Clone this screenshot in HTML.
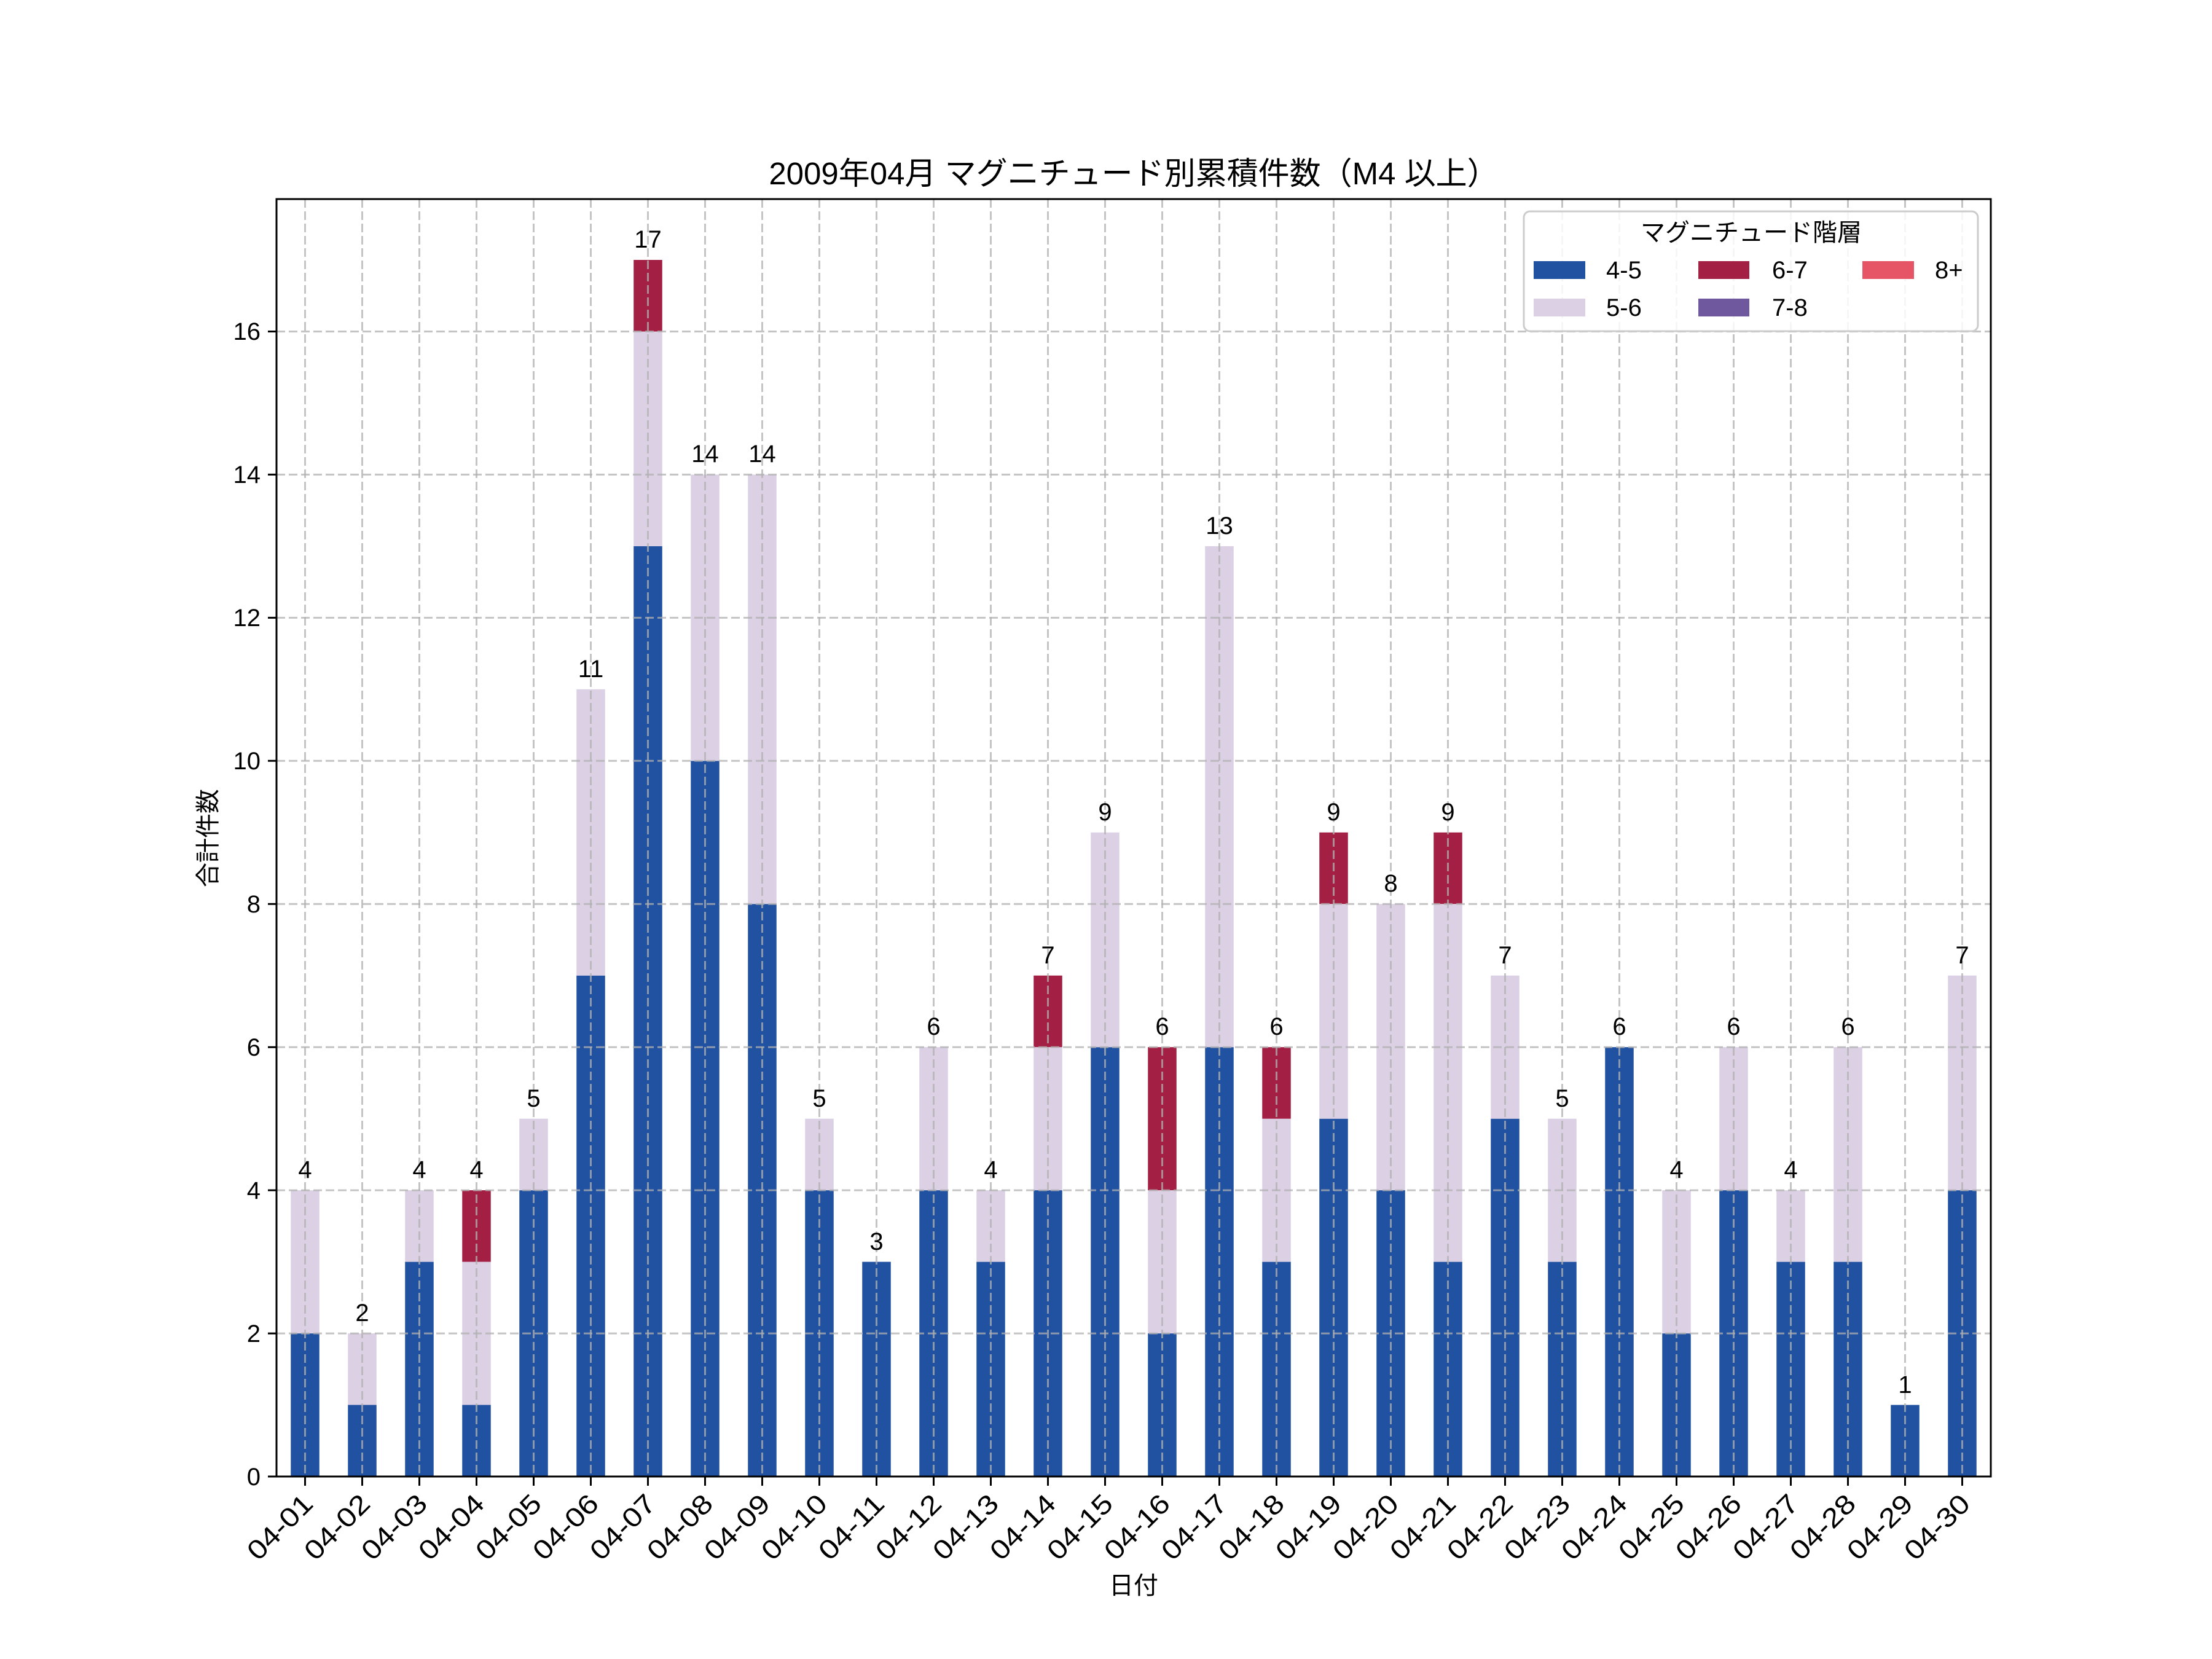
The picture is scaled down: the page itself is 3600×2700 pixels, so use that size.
<!DOCTYPE html>
<html><head><meta charset="utf-8"><style>
html,body{margin:0;padding:0;background:#fff;}
svg{display:block;}
text{font-family:"Liberation Sans","Noto Sans CJK JP",sans-serif;fill:#000;}
</style></head><body>
<svg width="3600" height="2700" viewBox="0 0 3600 2700" xmlns="http://www.w3.org/2000/svg">
<rect width="3600" height="2700" fill="#fff"/>
<g id="bars">
<g fill="#2151a1">
<rect x="473.25" y="2170.1" width="46.5" height="232.9"/>
<rect x="566.25" y="2286.5" width="46.5" height="116.5"/>
<rect x="659.25" y="2053.6" width="46.5" height="349.4"/>
<rect x="752.25" y="2286.5" width="46.5" height="116.5"/>
<rect x="845.25" y="1937.1" width="46.5" height="465.9"/>
<rect x="938.25" y="1587.7" width="46.5" height="815.3"/>
<rect x="1031.25" y="888.9" width="46.5" height="1514.1"/>
<rect x="1124.25" y="1238.3" width="46.5" height="1164.7"/>
<rect x="1217.25" y="1471.2" width="46.5" height="931.8"/>
<rect x="1310.25" y="1937.1" width="46.5" height="465.9"/>
<rect x="1403.25" y="2053.6" width="46.5" height="349.4"/>
<rect x="1496.25" y="1937.1" width="46.5" height="465.9"/>
<rect x="1589.25" y="2053.6" width="46.5" height="349.4"/>
<rect x="1682.25" y="1937.1" width="46.5" height="465.9"/>
<rect x="1775.25" y="1704.2" width="46.5" height="698.8"/>
<rect x="1868.25" y="2170.1" width="46.5" height="232.9"/>
<rect x="1961.25" y="1704.2" width="46.5" height="698.8"/>
<rect x="2054.25" y="2053.6" width="46.5" height="349.4"/>
<rect x="2147.25" y="1820.7" width="46.5" height="582.3"/>
<rect x="2240.25" y="1937.1" width="46.5" height="465.9"/>
<rect x="2333.25" y="2053.6" width="46.5" height="349.4"/>
<rect x="2426.25" y="1820.7" width="46.5" height="582.3"/>
<rect x="2519.25" y="2053.6" width="46.5" height="349.4"/>
<rect x="2612.25" y="1704.2" width="46.5" height="698.8"/>
<rect x="2705.25" y="2170.1" width="46.5" height="232.9"/>
<rect x="2798.25" y="1937.1" width="46.5" height="465.9"/>
<rect x="2891.25" y="2053.6" width="46.5" height="349.4"/>
<rect x="2984.25" y="2053.6" width="46.5" height="349.4"/>
<rect x="3077.25" y="2286.5" width="46.5" height="116.5"/>
<rect x="3170.25" y="1937.1" width="46.5" height="465.9"/>
</g>
<g fill="#dcd0e5">
<rect x="473.25" y="1937.1" width="46.5" height="233"/>
<rect x="566.25" y="2170.1" width="46.5" height="116.4"/>
<rect x="659.25" y="1937.1" width="46.5" height="116.5"/>
<rect x="752.25" y="2053.6" width="46.5" height="232.9"/>
<rect x="845.25" y="1820.7" width="46.5" height="116.4"/>
<rect x="938.25" y="1121.8" width="46.5" height="465.9"/>
<rect x="1031.25" y="539.5" width="46.5" height="349.4"/>
<rect x="1124.25" y="772.4" width="46.5" height="465.9"/>
<rect x="1217.25" y="772.4" width="46.5" height="698.8"/>
<rect x="1310.25" y="1820.7" width="46.5" height="116.4"/>
<rect x="1496.25" y="1704.2" width="46.5" height="232.9"/>
<rect x="1589.25" y="1937.1" width="46.5" height="116.5"/>
<rect x="1682.25" y="1704.2" width="46.5" height="232.9"/>
<rect x="1775.25" y="1354.8" width="46.5" height="349.4"/>
<rect x="1868.25" y="1937.1" width="46.5" height="233"/>
<rect x="1961.25" y="888.9" width="46.5" height="815.3"/>
<rect x="2054.25" y="1820.7" width="46.5" height="232.9"/>
<rect x="2147.25" y="1471.2" width="46.5" height="349.5"/>
<rect x="2240.25" y="1471.2" width="46.5" height="465.9"/>
<rect x="2333.25" y="1471.2" width="46.5" height="582.4"/>
<rect x="2426.25" y="1587.7" width="46.5" height="233"/>
<rect x="2519.25" y="1820.7" width="46.5" height="232.9"/>
<rect x="2705.25" y="1937.1" width="46.5" height="233"/>
<rect x="2798.25" y="1704.2" width="46.5" height="232.9"/>
<rect x="2891.25" y="1937.1" width="46.5" height="116.5"/>
<rect x="2984.25" y="1704.2" width="46.5" height="349.4"/>
<rect x="3170.25" y="1587.7" width="46.5" height="349.4"/>
</g>
<g fill="#a32044">
<rect x="752.25" y="1937.1" width="46.5" height="116.5"/>
<rect x="1031.25" y="423.0" width="46.5" height="116.5"/>
<rect x="1682.25" y="1587.7" width="46.5" height="116.5"/>
<rect x="1868.25" y="1704.2" width="46.5" height="232.9"/>
<rect x="2054.25" y="1704.2" width="46.5" height="116.5"/>
<rect x="2147.25" y="1354.8" width="46.5" height="116.4"/>
<rect x="2333.25" y="1354.8" width="46.5" height="116.4"/>
</g>
</g>
<g stroke="#b0b0b0" stroke-opacity="0.75" stroke-width="3" stroke-dasharray="14,6" fill="none">
<path d="M450 2403.0H3240M450 2170.1H3240M450 1937.1H3240M450 1704.2H3240M450 1471.2H3240M450 1238.3H3240M450 1005.4H3240M450 772.4H3240M450 539.5H3240"/>
<path d="M496.5 324V2403M589.5 324V2403M682.5 324V2403M775.5 324V2403M868.5 324V2403M961.5 324V2403M1054.5 324V2403M1147.5 324V2403M1240.5 324V2403M1333.5 324V2403M1426.5 324V2403M1519.5 324V2403M1612.5 324V2403M1705.5 324V2403M1798.5 324V2403M1891.5 324V2403M1984.5 324V2403M2077.5 324V2403M2170.5 324V2403M2263.5 324V2403M2356.5 324V2403M2449.5 324V2403M2542.5 324V2403M2635.5 324V2403M2728.5 324V2403M2821.5 324V2403M2914.5 324V2403M3007.5 324V2403M3100.5 324V2403M3193.5 324V2403"/>
</g>
<g font-size="40" text-anchor="middle">
<text x="496.5" y="1917">4</text>
<text x="589.5" y="2150">2</text>
<text x="682.5" y="1917">4</text>
<text x="775.5" y="1917">4</text>
<text x="868.5" y="1801">5</text>
<text x="961.5" y="1102">11</text>
<text x="1054.5" y="403">17</text>
<text x="1147.5" y="752">14</text>
<text x="1240.5" y="752">14</text>
<text x="1333.5" y="1801">5</text>
<text x="1426.5" y="2034">3</text>
<text x="1519.5" y="1684">6</text>
<text x="1612.5" y="1917">4</text>
<text x="1705.5" y="1568">7</text>
<text x="1798.5" y="1335">9</text>
<text x="1891.5" y="1684">6</text>
<text x="1984.5" y="869">13</text>
<text x="2077.5" y="1684">6</text>
<text x="2170.5" y="1335">9</text>
<text x="2263.5" y="1451">8</text>
<text x="2356.5" y="1335">9</text>
<text x="2449.5" y="1568">7</text>
<text x="2542.5" y="1801">5</text>
<text x="2635.5" y="1684">6</text>
<text x="2728.5" y="1917">4</text>
<text x="2821.5" y="1684">6</text>
<text x="2914.5" y="1917">4</text>
<text x="3007.5" y="1684">6</text>
<text x="3100.5" y="2267">1</text>
<text x="3193.5" y="1568">7</text>
</g>
<rect x="2480" y="344" width="739" height="195" rx="10" fill="#fff" fill-opacity="0.85" stroke="#cccccc" stroke-width="3"/>
<text x="2850" y="392" font-size="40" text-anchor="middle">マグニチュード階層</text>
<rect x="2496" y="425" width="84" height="29" fill="#2151a1"/>
<text x="2614" y="453" font-size="40">4-5</text>
<rect x="2496" y="486" width="84" height="29" fill="#dcd0e5"/>
<text x="2614" y="514" font-size="40">5-6</text>
<rect x="2764" y="425" width="83" height="29" fill="#a32044"/>
<text x="2884" y="453" font-size="40">6-7</text>
<rect x="2764" y="486" width="83" height="29" fill="#70589f"/>
<text x="2884" y="514" font-size="40">7-8</text>
<rect x="3031" y="425" width="84" height="29" fill="#e65566"/>
<text x="3149" y="453" font-size="40">8+</text>
<rect x="450" y="324" width="2790" height="2079" fill="none" stroke="#000" stroke-width="3"/>
<g stroke="#000" stroke-width="3">
<path d="M436 2403H450M436 2170.1H450M436 1937.1H450M436 1704.2H450M436 1471.2H450M436 1238.3H450M436 1005.4H450M436 772.4H450M436 539.5H450"/>
<path d="M496.5 2403v15M589.5 2403v15M682.5 2403v15M775.5 2403v15M868.5 2403v15M961.5 2403v15M1054.5 2403v15M1147.5 2403v15M1240.5 2403v15M1333.5 2403v15M1426.5 2403v15M1519.5 2403v15M1612.5 2403v15M1705.5 2403v15M1798.5 2403v15M1891.5 2403v15M1984.5 2403v15M2077.5 2403v15M2170.5 2403v15M2263.5 2403v15M2356.5 2403v15M2449.5 2403v15M2542.5 2403v15M2635.5 2403v15M2728.5 2403v15M2821.5 2403v15M2914.5 2403v15M3007.5 2403v15M3100.5 2403v15M3193.5 2403v15"/>
</g>
<g font-size="40" text-anchor="end">
<text x="424" y="2417">0</text>
<text x="424" y="2184">2</text>
<text x="424" y="1951">4</text>
<text x="424" y="1718">6</text>
<text x="424" y="1485">8</text>
<text x="424" y="1252">10</text>
<text x="424" y="1019">12</text>
<text x="424" y="786">14</text>
<text x="424" y="553">16</text>
</g>
<g font-size="44" text-anchor="end">
<text transform="translate(512,2450) rotate(-45)" textLength="130" lengthAdjust="spacingAndGlyphs">04-01</text>
<text transform="translate(605,2450) rotate(-45)" textLength="130" lengthAdjust="spacingAndGlyphs">04-02</text>
<text transform="translate(698,2450) rotate(-45)" textLength="130" lengthAdjust="spacingAndGlyphs">04-03</text>
<text transform="translate(791,2450) rotate(-45)" textLength="130" lengthAdjust="spacingAndGlyphs">04-04</text>
<text transform="translate(884,2450) rotate(-45)" textLength="130" lengthAdjust="spacingAndGlyphs">04-05</text>
<text transform="translate(977,2450) rotate(-45)" textLength="130" lengthAdjust="spacingAndGlyphs">04-06</text>
<text transform="translate(1070,2450) rotate(-45)" textLength="130" lengthAdjust="spacingAndGlyphs">04-07</text>
<text transform="translate(1163,2450) rotate(-45)" textLength="130" lengthAdjust="spacingAndGlyphs">04-08</text>
<text transform="translate(1256,2450) rotate(-45)" textLength="130" lengthAdjust="spacingAndGlyphs">04-09</text>
<text transform="translate(1349,2450) rotate(-45)" textLength="130" lengthAdjust="spacingAndGlyphs">04-10</text>
<text transform="translate(1442,2450) rotate(-45)" textLength="130" lengthAdjust="spacingAndGlyphs">04-11</text>
<text transform="translate(1535,2450) rotate(-45)" textLength="130" lengthAdjust="spacingAndGlyphs">04-12</text>
<text transform="translate(1628,2450) rotate(-45)" textLength="130" lengthAdjust="spacingAndGlyphs">04-13</text>
<text transform="translate(1721,2450) rotate(-45)" textLength="130" lengthAdjust="spacingAndGlyphs">04-14</text>
<text transform="translate(1814,2450) rotate(-45)" textLength="130" lengthAdjust="spacingAndGlyphs">04-15</text>
<text transform="translate(1907,2450) rotate(-45)" textLength="130" lengthAdjust="spacingAndGlyphs">04-16</text>
<text transform="translate(2000,2450) rotate(-45)" textLength="130" lengthAdjust="spacingAndGlyphs">04-17</text>
<text transform="translate(2093,2450) rotate(-45)" textLength="130" lengthAdjust="spacingAndGlyphs">04-18</text>
<text transform="translate(2186,2450) rotate(-45)" textLength="130" lengthAdjust="spacingAndGlyphs">04-19</text>
<text transform="translate(2279,2450) rotate(-45)" textLength="130" lengthAdjust="spacingAndGlyphs">04-20</text>
<text transform="translate(2372,2450) rotate(-45)" textLength="130" lengthAdjust="spacingAndGlyphs">04-21</text>
<text transform="translate(2465,2450) rotate(-45)" textLength="130" lengthAdjust="spacingAndGlyphs">04-22</text>
<text transform="translate(2558,2450) rotate(-45)" textLength="130" lengthAdjust="spacingAndGlyphs">04-23</text>
<text transform="translate(2651,2450) rotate(-45)" textLength="130" lengthAdjust="spacingAndGlyphs">04-24</text>
<text transform="translate(2744,2450) rotate(-45)" textLength="130" lengthAdjust="spacingAndGlyphs">04-25</text>
<text transform="translate(2837,2450) rotate(-45)" textLength="130" lengthAdjust="spacingAndGlyphs">04-26</text>
<text transform="translate(2930,2450) rotate(-45)" textLength="130" lengthAdjust="spacingAndGlyphs">04-27</text>
<text transform="translate(3023,2450) rotate(-45)" textLength="130" lengthAdjust="spacingAndGlyphs">04-28</text>
<text transform="translate(3116,2450) rotate(-45)" textLength="130" lengthAdjust="spacingAndGlyphs">04-29</text>
<text transform="translate(3209,2450) rotate(-45)" textLength="130" lengthAdjust="spacingAndGlyphs">04-30</text>
</g>
<text x="1845" y="2594" font-size="40" text-anchor="middle">日付</text>
<text transform="translate(352,1364) rotate(-90)" font-size="40" text-anchor="middle">合計件数</text>
<text x="1845" y="300" font-size="51" text-anchor="middle">2009年04月 マグニチュード別累積件数（M4 以上）</text>
</svg>
</body></html>
